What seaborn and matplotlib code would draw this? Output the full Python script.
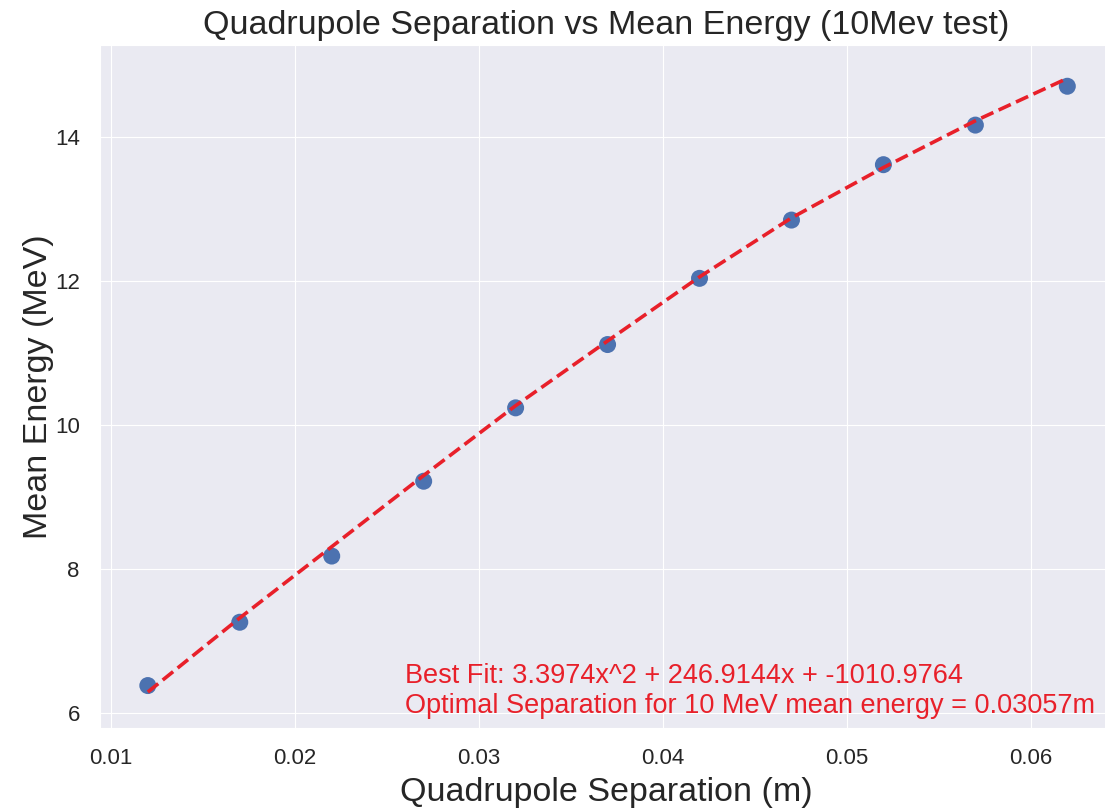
import numpy as np
import pandas as pd
import seaborn as sns
import matplotlib.pyplot as plt

# Dados
separation = [0.012, 0.017, 0.022, 0.027, 0.032, 0.037, 0.042, 0.047, 0.052, 0.057, 0.062]
mean_energy = [6.38, 7.26, 8.18, 9.22, 10.24, 11.12, 12.04, 12.85, 13.62, 14.17, 14.71]

# Curva de ajuste
fit_energy = [6.29, 7.32, 8.31, 9.30, 10.27, 11.17, 12.06, 12.88, 13.58, 14.23, 14.82]

fit_text = ("Best Fit: 3.3974x^2 + 246.9144x + -1010.9764\n"
            "Optimal Separation for 10 MeV mean energy = 0.03057m")

df = pd.DataFrame({'separation': separation, 'energy': mean_energy})

sns.set_style("darkgrid")
plt.rcParams['font.family'] = ['Liberation Sans', 'DejaVu Sans']

fig = plt.figure(figsize=(11.05, 8.08), dpi=100)
# o eixo passa um pouco da borda direita, como no original
ax = fig.add_axes([0.0905, 0.099, 0.917, 0.845])

sns.scatterplot(data=df, x='separation', y='energy', ax=ax,
                color="#4C72B0", s=150, edgecolor="none", zorder=3)
ax.plot(separation, fit_energy, linestyle='--', color="#e8202a", lw=2.6, zorder=4)

ax.text(0.026, 6.0, fit_text, color="#e8202a", fontsize=19.5)

ax.set_title("Quadrupole Separation vs Mean Energy (10Mev test)", fontsize=24.5, color=".15", pad=8)
ax.set_xlabel("Quadrupole Separation (m)", fontsize=24.5, color=".15", labelpad=6)
ax.set_ylabel("Mean Energy (MeV)", fontsize=24.5, color=".15", labelpad=1)
ax.tick_params(labelsize=16, colors=".15", pad=11)
ax.set_yticks([6, 8, 10, 12, 14])
ax.set_xlim(0.0094, 0.0645)
ax.set_ylim(5.79, 15.28)

plt.savefig("out.png", dpi=100)
plt.close()
